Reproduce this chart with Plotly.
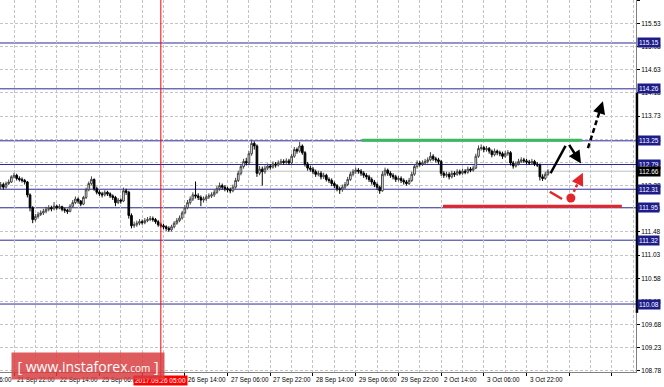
import plotly.graph_objects as go

# ---------------- data (H1 bars, USD/JPY) ----------------
first_open = 112.36
closes = [
 112.40,112.35,112.42,112.45,112.55,112.58,112.52,112.50,112.48,112.45,
 112.20,111.95,111.72,111.78,111.82,111.85,111.88,111.92,111.95,111.93,
 111.98,111.95,111.97,111.92,111.90,111.88,111.98,112.05,112.12,112.08,
 112.02,112.15,112.30,112.42,112.50,112.32,112.25,112.22,112.20,112.25,
 112.22,112.18,112.15,112.05,112.10,112.08,112.28,112.25,111.80,111.60,
 111.62,111.65,111.68,111.66,111.70,111.72,111.74,111.72,111.68,111.62,
 111.60,111.58,111.55,111.52,111.58,111.65,111.70,111.75,111.85,111.95,
 112.05,112.12,112.20,112.18,112.15,112.10,112.12,112.16,112.18,112.20,
 112.25,112.32,112.38,112.35,112.32,112.30,112.28,112.35,112.48,112.62,
 112.75,112.85,112.82,113.00,113.20,113.15,112.62,112.70,112.65,112.72,
 112.76,112.74,112.80,112.78,112.82,112.85,112.83,112.86,112.82,112.95,
 113.08,113.05,113.15,113.02,112.80,112.72,112.70,112.65,112.60,112.62,
 112.55,112.58,112.50,112.48,112.42,112.38,112.32,112.30,112.35,112.40,
 112.50,112.60,112.65,112.68,112.66,112.62,112.58,112.55,112.50,112.45,
 112.40,112.35,112.28,112.60,112.68,112.62,112.58,112.55,112.50,112.52,
 112.48,112.45,112.42,112.48,112.60,112.75,112.82,112.80,112.82,112.85,
 112.88,112.95,112.90,112.88,112.85,112.62,112.58,112.60,112.55,112.62,
 112.60,112.65,112.62,112.66,112.64,112.70,112.68,112.72,112.95,113.10,
 113.12,113.08,113.10,113.05,112.98,113.05,113.02,113.00,112.95,113.00,
 113.02,112.82,112.76,112.80,112.85,112.88,112.86,112.84,112.82,112.85,
 112.80,112.78,112.55,112.52,112.60,112.66]
highs = [
 112.45,112.44,112.46,112.50,112.58,112.63,112.61,112.56,112.54,112.51,
 112.47,112.23,111.98,111.83,111.87,111.90,111.93,111.97,112.00,111.99,
 112.06,112.01,112.02,111.99,111.95,111.93,112.02,112.10,112.17,112.15,
 112.10,112.18,112.34,112.46,112.56,112.52,112.36,112.29,112.26,112.29,
 112.28,112.25,112.21,112.18,112.14,112.13,112.34,112.32,112.28,111.84,
 111.68,111.70,111.73,111.72,111.75,111.77,111.79,111.78,111.75,111.71,
 111.66,111.64,111.61,111.59,111.62,111.69,111.75,111.80,111.89,112.00,
 112.10,112.17,112.25,112.46,112.23,112.19,112.17,112.21,112.23,112.25,
 112.30,112.37,112.44,112.42,112.39,112.36,112.34,112.40,112.53,112.67,
 112.80,112.90,112.92,113.05,113.27,113.24,113.18,112.76,112.75,112.77,
 112.81,112.80,112.85,112.84,112.87,112.90,112.89,112.91,112.90,113.00,
 113.13,113.12,113.23,113.18,113.05,112.84,112.77,112.74,112.69,112.67,
 112.66,112.63,112.61,112.54,112.52,112.46,112.41,112.36,112.40,112.45,
 112.55,112.65,112.70,112.73,112.72,112.70,112.66,112.62,112.59,112.54,
 112.49,112.44,112.38,112.66,112.73,112.71,112.66,112.62,112.59,112.57,
 112.56,112.52,112.49,112.53,112.65,112.80,112.87,112.86,112.87,112.90,
 112.93,113.03,112.99,112.94,112.92,112.88,112.66,112.65,112.64,112.67,
 112.66,112.70,112.69,112.71,112.70,112.75,112.74,112.77,113.00,113.16,
 113.18,113.15,113.15,113.13,113.08,113.10,113.08,113.06,113.04,113.05,
 113.07,113.05,112.86,112.85,112.90,112.93,112.92,112.90,112.88,112.90,
 112.88,112.84,112.81,112.60,112.65,112.70]
lows = [
 112.31,112.30,112.32,112.39,112.43,112.52,112.48,112.46,112.44,112.40,
 112.15,111.88,111.65,111.68,111.74,111.79,111.81,111.84,111.88,111.88,
 111.90,111.91,111.92,111.88,111.85,111.83,111.86,111.95,112.02,112.03,
 111.98,112.00,112.12,112.27,112.39,112.28,112.21,112.18,112.15,112.17,
 112.18,112.14,112.10,111.98,112.02,112.03,112.06,112.20,111.74,111.55,
 111.56,111.58,111.61,111.62,111.63,111.67,111.69,111.68,111.64,111.58,
 111.56,111.53,111.50,111.48,111.49,111.55,111.62,111.67,111.72,111.82,
 111.92,112.01,112.08,112.13,112.10,111.98,112.05,112.08,112.12,112.14,
 112.16,112.22,112.28,112.30,112.27,112.25,112.23,112.25,112.32,112.45,
 112.58,112.71,112.77,112.79,112.96,113.08,112.55,112.58,112.38,112.61,
 112.68,112.69,112.71,112.73,112.75,112.78,112.79,112.80,112.78,112.79,
 112.92,113.00,113.02,112.98,112.75,112.67,112.65,112.60,112.55,112.56,
 112.50,112.51,112.46,112.43,112.37,112.33,112.27,112.22,112.26,112.31,
 112.37,112.47,112.56,112.61,112.61,112.57,112.53,112.50,112.45,112.40,
 112.35,112.30,112.22,112.26,112.56,112.57,112.53,112.50,112.45,112.46,
 112.43,112.40,112.38,112.39,112.45,112.57,112.71,112.75,112.76,112.78,
 112.81,112.85,112.86,112.83,112.80,112.57,112.53,112.54,112.50,112.52,
 112.55,112.57,112.58,112.59,112.60,112.61,112.64,112.65,112.70,112.92,
 113.06,113.03,113.04,113.00,112.93,112.95,112.97,112.95,112.90,112.92,
 112.96,112.77,112.71,112.73,112.77,112.82,112.82,112.80,112.78,112.79,
 112.76,112.74,112.48,112.47,112.49,112.57]
opens = [first_open] + closes[:-1]
bar_index = list(range(len(closes)))

# time-axis labels (bar index -> label)
x_tick_idx = [-11, 5, 21, 37, 53, 69, 85, 101, 117, 133, 149, 165, 181, 197]
x_tick_text = ["21 Sep 06:00", "21 Sep 22:00", "22 Sep 14:00", "25 Sep 06:00",
               "25 Sep 22:00", "26 Sep 14:00", "27 Sep 06:00", "27 Sep 22:00",
               "28 Sep 14:00", "29 Sep 06:00", "29 Sep 22:00", "2 Oct 14:00",
               "3 Oct 06:00", "3 Oct 22:00"]
cursor_idx = 60
cursor_text = "2017.09.26 05:00"

# horizontal levels
levels = [115.15, 114.26, 113.25, 112.79, 112.31, 111.95, 111.32, 110.08]
current_price = 112.66

# analysis marks (bar index, price)
green_x = [135.3, 217.7]; green_y = [113.26, 113.26]
red_x = [165.7, 232.7];   red_y = [111.98, 111.98]
blk1_x = [206.0, 211.6];  blk1_y = [112.62, 113.15]
blk2_x = [212.6, 217.4];  blk2_y = [113.20, 112.81]
blk3_x = [220.0, 225.6];  blk3_y = [113.11, 114.02]
red1_x = [205.7, 210.3];  red1_y = [112.26, 112.12]
reddot_x = [213.6];       reddot_y = [112.14]
red2_x = [214.7, 218.1];  red2_y = [112.26, 112.63]

X_RANGE = [-0.25, 238.0]
Y_RANGE = [108.76, 115.985]

FONT = "Liberation Sans"
NAVY_LINE = "#2a2a9c"
NAVY_BOX = "#1c1c8a"

fig = go.Figure()
fig.add_trace(go.Candlestick(
    x=bar_index, open=opens, high=highs, low=lows, close=closes,
    increasing=dict(line=dict(color="#444444", width=1), fillcolor="#ffffff"),
    decreasing=dict(line=dict(color="#000000", width=1), fillcolor="#000000"),
    whiskerwidth=0, hoverinfo="skip", showlegend=False))

# analysis lines
def seg(xs, ys, color, width, dash="solid"):
    fig.add_trace(go.Scatter(x=xs, y=ys, mode="lines",
                             line=dict(color=color, width=width, dash=dash),
                             hoverinfo="skip", showlegend=False))

seg(green_x, green_y, "#3cb95c", 3)
seg(red_x, red_y, "#e4262b", 3)
seg(blk1_x, blk1_y, "#000000", 2.5)
seg(blk3_x[:1] + [blk3_x[0] + 0.8 * (blk3_x[1] - blk3_x[0])],
    blk3_y[:1] + [blk3_y[0] + 0.8 * (blk3_y[1] - blk3_y[0])], "#000000", 2.5, "5px,3px")
seg(red1_x, red1_y, "#e4262b", 2.5)
seg(red2_x[:1] + [red2_x[0] + 0.7 * (red2_x[1] - red2_x[0])],
    red2_y[:1] + [red2_y[0] + 0.7 * (red2_y[1] - red2_y[0])], "#e4262b", 2.5, "3px,2px")
fig.add_trace(go.Scatter(x=reddot_x, y=reddot_y, mode="markers",
                         marker=dict(color="#e4262b", size=9),
                         hoverinfo="skip", showlegend=False))

shapes = []
for lv in levels:
    shapes.append(dict(type="line", xref="paper", x0=0, x1=1, yref="y", y0=lv, y1=lv,
                       line=dict(color=NAVY_LINE, width=1), layer="below"))
shapes.append(dict(type="line", xref="paper", x0=0, x1=1, yref="y",
                   y0=current_price, y1=current_price,
                   line=dict(color="#c0c0c0", width=1), layer="below"))
shapes.append(dict(type="line", xref="x", x0=cursor_idx, x1=cursor_idx, yref="paper",
                   y0=-0.015, y1=1, line=dict(color="#ff0000", width=1), layer="above"))
shapes.append(dict(type="line", xref="paper", x0=1.0015, x1=1.0015, yref="paper",
                   y0=0.159, y1=0.75, line=dict(color="#000000", width=2.5)))

annotations = []
span = X_RANGE[1] - X_RANGE[0]
for idx, txt in zip(x_tick_idx, x_tick_text):
    annotations.append(dict(xref="paper", x=(idx - X_RANGE[0]) / span, yref="paper", y=0,
                            xanchor="left", yanchor="top", yshift=-2, xshift=1,
                            text=txt, showarrow=False,
                            font=dict(family=FONT, size=6.3, color="#000")))
annotations.append(dict(xref="paper", x=(cursor_idx - X_RANGE[0]) / span, yref="paper", y=0,
                        xanchor="center", yanchor="top", yshift=-3,
                        text=cursor_text, showarrow=False, bgcolor="#ff0000", borderpad=1,
                        font=dict(family=FONT, size=6.5, color="#fff")))
for lv in levels:
    annotations.append(dict(xref="paper", x=1, yref="y", y=lv, xanchor="left", xshift=1,
                            text=f"{lv:.2f}", showarrow=False, bgcolor=NAVY_BOX, borderpad=1,
                            font=dict(family=FONT, size=6.5, color="#fff")))
annotations.append(dict(xref="paper", x=1, yref="y", y=current_price, xanchor="left", xshift=1,
                        text=f"{current_price:.2f}", showarrow=False, bgcolor="#000",
                        borderpad=1, font=dict(family=FONT, size=6.5, color="#fff")))

def head(xs, ys, color, frac):
    tx = xs[0] + frac * (xs[1] - xs[0]); ty = ys[0] + frac * (ys[1] - ys[0])
    annotations.append(dict(x=xs[1], y=ys[1], ax=tx, ay=ty, xref="x", yref="y",
                            axref="x", ayref="y", showarrow=True, arrowhead=2,
                            arrowsize=1, arrowwidth=2.5, arrowcolor=color, text=""))

head(blk2_x, blk2_y, "#000000", 0.0)
head(blk3_x, blk3_y, "#000000", 0.75)
head(red2_x, red2_y, "#e4262b", 0.65)

# watermark
annotations.append(dict(xref="paper", x=11 / 636, yref="paper", y=20 / 372,
                        xanchor="left", yanchor="top", width=152, height=26,
                        text="[ www.instaforex<span style='font-size:10px'>.com</span> ]",
                        showarrow=False, bgcolor="rgba(216,64,66,0.85)", borderpad=0,
                        font=dict(family="Open Sans", size=14, color="#fff")))

grid = dict(gridcolor="#c4c4c4", griddash="3px,2px", gridwidth=1)
fig.update_layout(
    width=664, height=387, margin=dict(l=0, r=28, t=0, b=15),
    paper_bgcolor="#ffffff", plot_bgcolor="#ffffff", boxgap=0.1,
    shapes=shapes, annotations=annotations, showlegend=False,
    xaxis=dict(range=X_RANGE, rangeslider=dict(visible=False), tick0=5, dtick=16,
               showticklabels=False, ticks="outside", ticklen=3, tickcolor="#000",
               showline=True, linecolor="#808080", zeroline=False, showgrid=True,
               minor=dict(tick0=5, dtick=8, showgrid=True, **grid), **grid),
    yaxis=dict(range=Y_RANGE, side="right", tick0=108.78, dtick=0.45, tickformat=".2f",
               ticks="outside", ticklen=3, tickcolor="#000", showline=True,
               linecolor="#808080", zeroline=False, showgrid=True,
               tickfont=dict(family=FONT, size=6.5, color="#000"), **grid),
)
fig.write_html("out.html")
